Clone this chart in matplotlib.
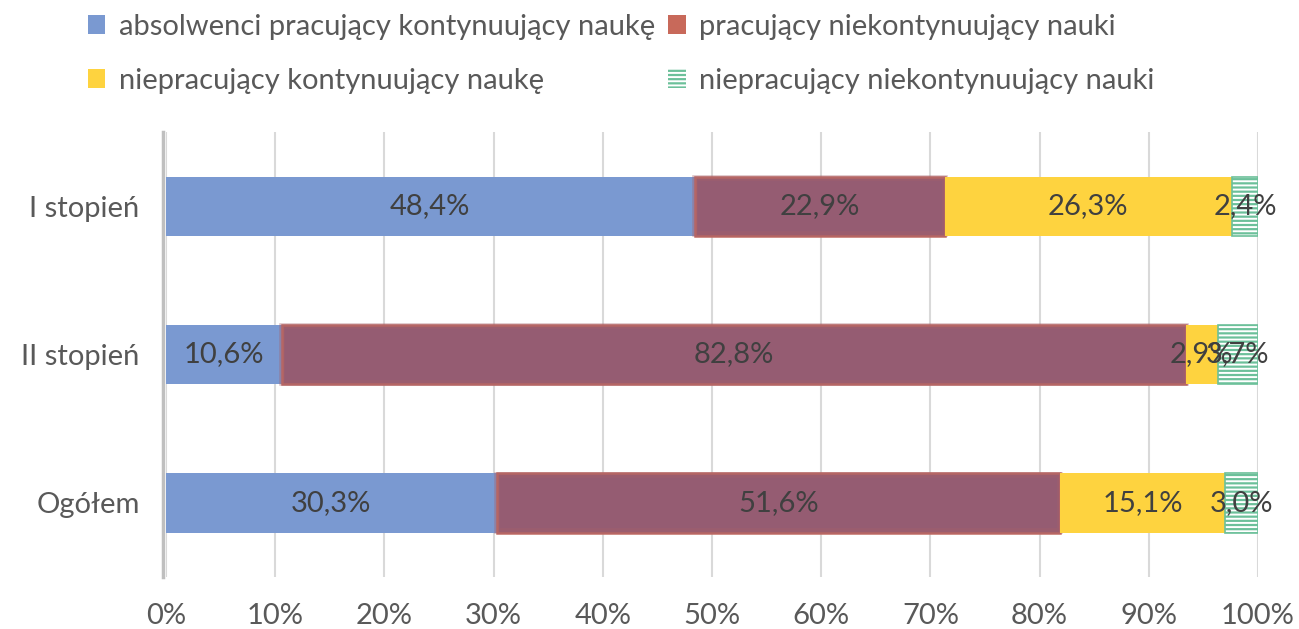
#!/usr/bin/env python3
"""
Stacked 100% horizontal bars: absolwenci wg stopnia studiow
"""

import matplotlib
matplotlib.use('Agg')
import matplotlib.pyplot as plt
from matplotlib.patches import Patch

categories = ['I stopień', 'II stopień', 'Ogółem']
series_names = ['absolwenci pracujący kontynuujący naukę',
                'pracujący niekontynuujący nauki',
                'niepracujący kontynuujący naukę',
                'niepracujący niekontynuujący nauki']
pracujacy_nauka = [48.4, 10.6, 30.3]
pracujacy_bez_nauki = [22.9, 82.8, 51.6]
niepracujacy_nauka = [26.3, 2.9, 15.1]
niepracujacy_bez_nauki = [2.4, 3.7, 3.0]
xticks = [0, 10, 20, 30, 40, 50, 60, 70, 80, 90, 100]

plt.rcParams['font.family'] = ['Lato', 'DejaVu Sans']
plt.rcParams['hatch.linewidth'] = 1.4

fig = plt.figure(figsize=(12.99, 6.29), dpi=100)
ax = fig.add_axes([166 / 1299, 52 / 629, 1092 / 1299, 445 / 629])

ypos = list(range(len(categories)))
h = 0.4
txt = '#404040'
fs = 21

left = [0, 0, 0]
b1 = ax.barh(ypos, pracujacy_nauka, left=left, height=h, color='#7A99D1',
             linewidth=0, zorder=3)
left = [l + v for l, v in zip(left, pracujacy_nauka)]
# red bar with soft reddish rim
b2 = ax.barh(ypos, pracujacy_bez_nauki, left=left, height=h, color='#955C72',
             edgecolor='#C06A62', linewidth=1.8, zorder=3)
ax.barh(ypos, pracujacy_bez_nauki, left=left, height=h - 0.02, fill=False,
        edgecolor='#A5606A', linewidth=4, alpha=0.4, zorder=3)
left = [l + v for l, v in zip(left, pracujacy_bez_nauki)]
b3 = ax.barh(ypos, niepracujacy_nauka, left=left, height=h, color='#FED33F',
             linewidth=0, zorder=3)
left = [l + v for l, v in zip(left, niepracujacy_nauka)]
b4 = ax.barh(ypos, niepracujacy_bez_nauki, left=left, height=h,
             facecolor='#6CC09A', edgecolor='white', hatch='----',
             linewidth=0, zorder=3)
ax.barh(ypos, niepracujacy_bez_nauki, left=left, height=h, fill=False,
        edgecolor='#6CC09A', linewidth=1.2, zorder=3)

for bars, vals in [(b1, pracujacy_nauka), (b2, pracujacy_bez_nauki),
                   (b3, niepracujacy_nauka), (b4, niepracujacy_bez_nauki)]:
    for rect, v in zip(bars, vals):
        ax.text(rect.get_x() + rect.get_width() / 2,
                rect.get_y() + rect.get_height() / 2,
                f'{v:.1f}%'.replace('.', ','), ha='center', va='center',
                fontsize=fs, color=txt, zorder=5)

ax.set_xlim(0, 100)
ax.set_ylim(2.5, -0.5)
ax.set_xticks(xticks)
ax.set_xticklabels([f'{t}%' for t in xticks])
ax.set_yticks(ypos)
ax.set_yticklabels(categories)
ax.tick_params(axis='both', length=0, labelsize=fs, labelcolor='#595959')
ax.tick_params(axis='x', pad=19)
ax.tick_params(axis='y', pad=17)
ax.grid(axis='x', color='#D9D9D9', linewidth=1.5, zorder=0)
for s in ['top', 'right', 'bottom']:
    ax.spines[s].set_visible(False)
ax.spines['left'].set_color('#BFBFBF')
ax.spines['left'].set_linewidth(2.5)
ax.spines['left'].set_position(('outward', 2))

handles = [Patch(facecolor='#7A99D1'), Patch(facecolor='#FED33F'),
           Patch(facecolor='#C8695A'),
           Patch(facecolor='#6CC09A', edgecolor='white', hatch='----', linewidth=0)]
labels = [series_names[0], series_names[2], series_names[1], series_names[3]]
fig.legend(handles, labels, ncol=2, loc='upper left',
           bbox_to_anchor=(88 / 1299, 1 - 14 / 629), frameon=False,
           fontsize=fs, labelcolor='#595959', borderpad=0, borderaxespad=0,
           handlelength=0.6, handleheight=0.6, handletextpad=0.45,
           labelspacing=0.95, columnspacing=0.45)

fig.savefig('out.png', dpi=100)
